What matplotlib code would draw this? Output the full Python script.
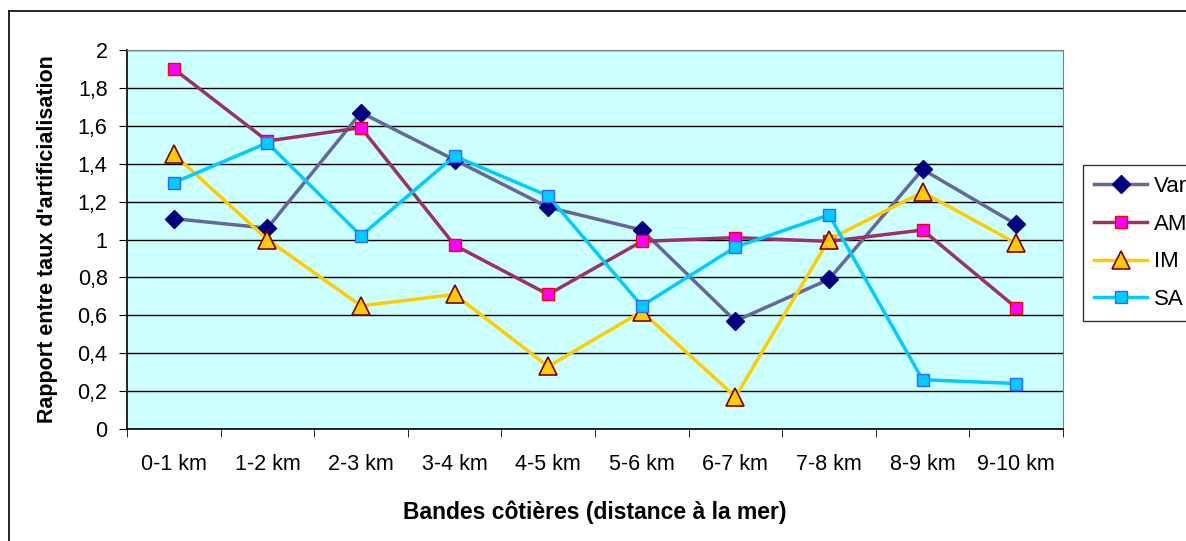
import matplotlib
matplotlib.use("Agg")
import matplotlib.pyplot as plt
from matplotlib.lines import Line2D
import numpy as np

plt.rcParams['font.family'] = ['Liberation Sans', 'DejaVu Sans']

bandes = ['0-1 km', '1-2 km', '2-3 km', '3-4 km', '4-5 km',
          '5-6 km', '6-7 km', '7-8 km', '8-9 km', '9-10 km']
var = [1.11, 1.06, 1.67, 1.42, 1.17, 1.05, 0.57, 0.79, 1.37, 1.08]
am = [1.90, 1.52, 1.59, 0.97, 0.71, 0.99, 1.01, 0.99, 1.05, 0.64]
im = [1.45, 1.00, 0.65, 0.71, 0.33, 0.62, 0.17, 1.00, 1.25, 0.98]
sa = [1.30, 1.51, 1.02, 1.44, 1.23, 0.65, 0.96, 1.13, 0.26, 0.24]
yticks = [0, 0.2, 0.4, 0.6, 0.8, 1, 1.2, 1.4, 1.6, 1.8, 2]

W, H = 1186, 541
fig = plt.figure(figsize=(W / 100, H / 100), dpi=100)

# outer chart frame (only left and top visible)
fig.add_artist(Line2D([9 / W, 9 / W], [0, 1 - 11 / H], color='black', lw=1.2))
fig.add_artist(Line2D([9 / W, 1], [1 - 11 / H, 1 - 11 / H], color='black', lw=1.2))

ax = fig.add_axes([127 / W, (H - 429) / H, 936 / W, 379 / H])
ax.set_facecolor('#CCFFFF')

x = np.arange(len(bandes))
ax.plot(x, var, color='#666699', lw=2.5, marker='D', ms=9,
        mfc='#000080', mec='#000080', label='Var', zorder=3)
ax.plot(x, am, color='#993366', lw=2.5, marker='s', ms=9,
        mfc='#FF00FF', mec='#FF0000', mew=1, label='AM', zorder=3)
ax.plot(x, im, color='#FFCC00', lw=2.5, marker='^', ms=13,
        mfc='#FFCC00', mec='#800000', mew=1.2, label='IM', zorder=3)
ax.plot(x, sa, color='#00CCFF', lw=2.5, marker='s', ms=9,
        mfc='#00CCFF', mec='#3366FF', mew=1, label='SA', zorder=3)

ax.set_xlim(-0.5, len(bandes) - 0.5)
ax.set_ylim(0, 2)
ax.set_yticks(yticks)
ax.set_yticklabels([('%g' % v).replace('.', ',') for v in yticks])
ax.set_xticks(x)
ax.set_xticklabels(bandes)
ax.set_xticks(np.arange(-0.5, len(bandes)), minor=True)
ax.tick_params(axis='x', which='major', length=0, pad=18, labelsize=15.5)
ax.tick_params(axis='x', which='minor', length=6, direction='out', color='black')
ax.tick_params(axis='y', length=6, direction='out', labelsize=15.5, pad=8)
ax.yaxis.grid(True, color='black', lw=1)
ax.set_axisbelow(True)

for s in ['top', 'right']:
    ax.spines[s].set_color('#808080')
for s in ['left', 'bottom']:
    ax.spines[s].set_color('black')
    ax.spines[s].set_linewidth(1.2)

ax.set_xlabel('Bandes côtières (distance à la mer)', fontsize=16.5,
              fontweight='bold', labelpad=18)
ax.set_ylabel("Rapport entre taux d'artificialisation", fontsize=15.5,
              fontweight='bold', labelpad=14)

leg = fig.legend(loc='upper left', bbox_to_anchor=(1083 / W, 1 - 165 / H),
                 fontsize=16, frameon=True, fancybox=False, edgecolor='black',
                 handlelength=2.4, labelspacing=0.75, borderpad=0.5,
                 handletextpad=0.3, borderaxespad=0)
leg.get_frame().set_linewidth(1)

fig.savefig('out.png', dpi=100)
